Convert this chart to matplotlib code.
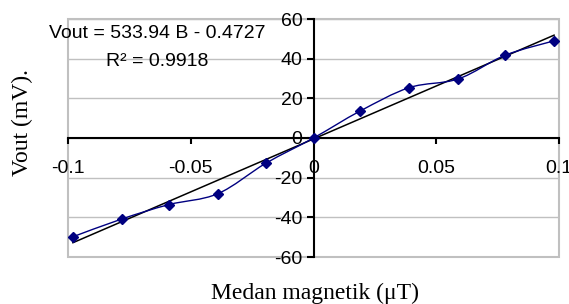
import numpy as np
import matplotlib
matplotlib.use("Agg")
import matplotlib.pyplot as plt
from matplotlib.path import Path
from matplotlib.patches import PathPatch, Rectangle

plt.rcParams["axes.unicode_minus"] = False

b_field = [-0.098, -0.078, -0.059, -0.039, -0.0195, 0.0, 0.019, 0.039, 0.059, 0.078, 0.098]
vout = [-49.8, -40.8, -33.6, -28.1, -12.8, 0.0, 13.6, 25.4, 29.8, 41.7, 49.0]

slope = 533.94
intercept = -0.4727
r2 = 0.9918

xticks = [-0.1, -0.05, 0, 0.05, 0.1]
xticklabels = ["-0.1", "-0.05", "0", "0.05", "0.1"]
yticks = [-60, -40, -20, 0, 20, 40, 60]
yticklabels = ["-60", "-40", "-20", "0", "20", "40", "60"]

NAVY = "#000080"
GRID = "#c0c0c0"

fig = plt.figure(figsize=(5.69, 3.04), dpi=100)
ax = fig.add_axes([68 / 569, 1 - 257 / 304, (559 - 68) / 569, (257 - 19) / 304])

ax.set_xlim(-0.1, 0.1)
ax.set_ylim(-60, 60)

for y in yticks:
    ax.axhline(y, color=GRID, lw=1.0, zorder=0)
ax.add_patch(Rectangle((0, 0), 1, 1, transform=ax.transAxes, fill=False,
                       edgecolor=GRID, lw=1.5, zorder=0, clip_on=False))

# smoothed line like excel (catmull-rom as bezier)
x = np.array(b_field)
y = np.array(vout)
pts = np.column_stack([x, y])
verts = [pts[0]]
codes = [Path.MOVETO]
n = len(pts)
for i in range(n - 1):
    p0 = pts[i - 1] if i > 0 else pts[i]
    p1 = pts[i]
    p2 = pts[i + 1]
    p3 = pts[i + 2] if i + 2 < n else pts[i + 1]
    c1 = p1 + (p2 - p0) / 6.0
    c2 = p2 - (p3 - p1) / 6.0
    verts += [c1, c2, p2]
    codes += [Path.CURVE4] * 3
ax.add_patch(PathPatch(Path(verts, codes), facecolor="none", edgecolor=NAVY,
                       lw=1.0, zorder=3))
ax.plot(x, y, linestyle="none", marker="D", color=NAVY, markersize=5, zorder=4)

# trend line
xt = np.array([b_field[0], b_field[-1]])
ax.plot(xt, slope * xt + intercept, color="black", lw=1.1, zorder=2)

for side in ["top", "right"]:
    ax.spines[side].set_visible(False)
ax.spines["left"].set_position(("data", 0))
ax.spines["bottom"].set_position(("data", 0))
ax.spines["left"].set_linewidth(1.5)
ax.spines["bottom"].set_linewidth(1.5)

ax.set_xticks(xticks)
ax.set_xticklabels(xticklabels)
ax.set_yticks(yticks)
ax.set_yticklabels(yticklabels)
ax.tick_params(axis="x", direction="out", length=4, width=1.5, pad=12,
               labelsize=14)
ax.tick_params(axis="y", direction="out", length=5, width=1.5, pad=3,
               labelsize=14)
for lab in ax.get_xticklabels() + ax.get_yticklabels():
    lab.set_family("Liberation Sans")

fig.text(157 / 569, 1 - 34 / 304, "Vout = 533.94 B - 0.4727",
         ha="center", va="center", fontsize=14, family="Liberation Sans")
fig.text(157 / 569, 1 - 62 / 304, "R\u00b2 = %.4f" % r2,
         ha="center", va="center", fontsize=14, family="Liberation Sans")

fig.text(22 / 569, 1 - 123 / 304, "Vout (mV).", rotation=90, ha="center", va="center",
         fontsize=17, family="Liberation Serif")
fig.text(315 / 569, 1 - 293 / 304, "Medan magnetik (\u03bcT)", ha="center", va="center",
         fontsize=17, family="Liberation Serif")

fig.savefig("out.png", dpi=100)
